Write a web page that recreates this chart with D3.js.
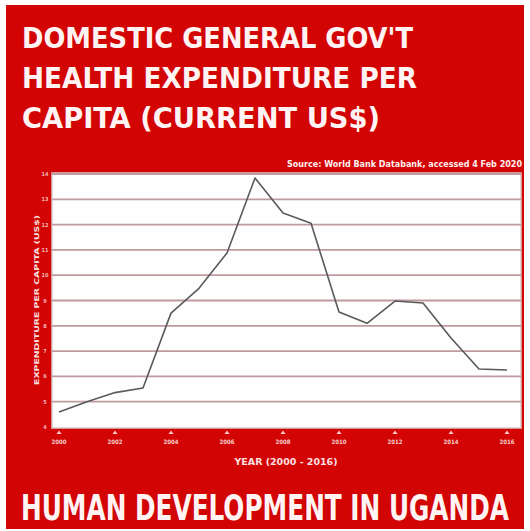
<!DOCTYPE html>
<html><head><meta charset="utf-8">
<script src="https://cdn.jsdelivr.net/npm/d3@7"></script>
<style>html,body{margin:0;padding:0;background:#fff}svg{display:block}</style>
</head><body>
<svg id="c" width="530" height="531"></svg>
<script>
const years = [2000,2001,2002,2003,2004,2005,2006,2007,2008,2009,2010,2011,2012,2013,2014,2015,2016];
const values = [4.59,5.0,5.36,5.54,8.5,9.48,10.88,13.84,12.46,12.05,8.55,8.1,8.98,8.9,7.52,6.29,6.25];
const yTicks = [4,5,6,7,8,9,10,11,12,13,14];
const xTicks = [2000,2002,2004,2006,2008,2010,2012,2014,2016];
const titleLines = ["DOMESTIC GENERAL GOV'T","HEALTH EXPENDITURE PER","CAPITA (CURRENT US$)"];
const footer = "HUMAN DEVELOPMENT IN UGANDA";
const source = "Source: World Bank Databank, accessed 4 Feb 2020";
const xTitle = "YEAR (2000 - 2016)";
const yTitle = "EXPENDITURE PER CAPITA (US$)";

const svg = d3.select("#c");
const RED = "#d20404";
const FONT = "'DejaVu Sans Condensed','DejaVu Sans',sans-serif";
svg.append("rect").attr("x",6).attr("y",5).attr("width",518).attr("height",524).attr("fill",RED);

// titles
const tw = [391,395,358];
svg.selectAll("text.title").data(titleLines).enter().append("text")
  .attr("class","title").attr("x",22).attr("y",(d,i)=>48+i*40)
  .attr("fill","#fff3f3").attr("font-family",FONT).attr("font-weight","bold")
  .attr("font-size",29).attr("textLength",(d,i)=>tw[i]).attr("lengthAdjust","spacingAndGlyphs")
  .text(d=>d);

// footer: fit width, stretch vertically
const fg = svg.append("g");
const ft = fg.append("text").attr("x",0).attr("y",0).attr("fill","#fff3f3")
  .attr("font-family",FONT).attr("font-weight","bold").attr("font-size",32).text(footer);
const nat = ft.node().getComputedTextLength();
const fs = 32*488/nat;
ft.attr("font-size",fs);
const capH = fs*0.73;
fg.attr("transform",`translate(21,520) scale(1,${26/capH})`);

// source
svg.append("text").attr("x",522).attr("y",167).attr("text-anchor","end").attr("fill","#fff0f0")
  .attr("font-family",FONT).attr("font-weight","bold").attr("font-size",8)
  .attr("textLength",235).attr("lengthAdjust","spacingAndGlyphs").text(source);

// plot
const pL=52, pR=521, pT=173, pB=428;
svg.append("rect").attr("x",pL).attr("y",pT).attr("width",pR-pL).attr("height",pB-pT)
  .attr("fill","#fefefe").attr("stroke","#d9c9ca").attr("stroke-width",1.5);

const x = d3.scaleLinear().domain([2000,2016]).range([59,507]);
const y = d3.scaleLinear().domain([4,14]).range([427,174]);

// gridlines
svg.append("g").selectAll("line").data(yTicks.filter(d=>d>4)).enter().append("line")
  .attr("x1",pL).attr("x2",pR).attr("y1",d=>y(d)).attr("y2",d=>y(d))
  .attr("stroke","#bf9a9e").attr("stroke-width",1.8);

// y tick labels
svg.append("g").selectAll("text").data(yTicks).enter().append("text")
  .attr("x",45).attr("y",d=>y(d)+2).attr("text-anchor","middle")
  .attr("fill","#f6b8b8").attr("font-family",FONT).attr("font-weight","bold").attr("font-size",5.5)
  .text(d=>d);

// x axis ticks
const xg = svg.append("g");
xg.selectAll("path").data(xTicks).enter().append("path")
  .attr("d",d=>`M${x(d)-2.5},434 L${x(d)},430.5 L${x(d)+2.5},434 Z`).attr("fill","#f6c6c6");
xg.selectAll("text").data(xTicks).enter().append("text")
  .attr("x",d=>x(d)).attr("y",444).attr("text-anchor","middle")
  .attr("fill","#f8d0d0").attr("font-family",FONT).attr("font-weight","bold").attr("font-size",6)
  .text(d=>d);

// axis titles
svg.append("text").attr("x",286).attr("y",465).attr("text-anchor","middle").attr("fill","#fbe0e0")
  .attr("font-family",FONT).attr("font-weight","bold").attr("font-size",9)
  .attr("textLength",103).attr("lengthAdjust","spacingAndGlyphs").text(xTitle);
svg.append("text").attr("transform","translate(39,300) rotate(-90)").attr("text-anchor","middle")
  .attr("fill","#fbe0e0").attr("font-family",FONT).attr("font-weight","bold").attr("font-size",6.5)
  .attr("textLength",170).attr("lengthAdjust","spacingAndGlyphs").text(yTitle);

// line
const line = d3.line().x((d,i)=>x(years[i])).y(d=>y(d));
svg.append("path").datum(values).attr("d",line).attr("fill","none")
  .attr("stroke","#5a5a5a").attr("stroke-width",1.6).attr("stroke-linejoin","round");
</script>
</body></html>
